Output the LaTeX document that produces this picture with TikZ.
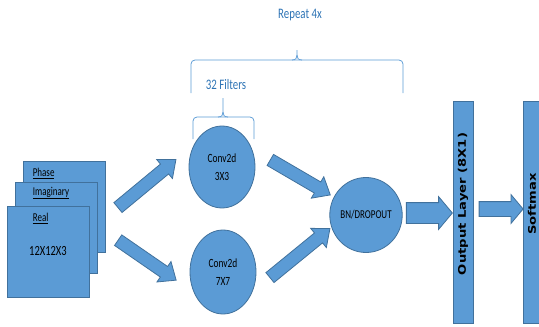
\documentclass[tikz,border=0pt]{standalone}
\usepackage{fontspec}
\setmainfont{Carlito}[FakeStretch=0.75]
\newfontfamily\layerfont{DejaVu Sans}[FakeStretch=1.25]
\usetikzlibrary{shapes.geometric,shapes.arrows,calc,positioning}
\definecolor{boxblue}{HTML}{5B9BD5}
\definecolor{edgeblue}{HTML}{41719C}
\definecolor{bracecol}{HTML}{5B9BD5}
\definecolor{notecol}{HTML}{2E74B5}

\newcommand{\blockarr}[3][]{%
  \path let \p1=($(#3)-(#2)$), \n1={veclen(\x1,\y1)} in
    (#2) -- (#3) node[midway, sloped, blockarrow, minimum height=\n1, #1] {};}

\begin{document}
\begin{tikzpicture}[x=1pt, y=-1pt]
    % Define styles
    \tikzstyle{layer} = [rectangle, draw=edgeblue, fill=boxblue, line width=0.8pt, minimum width=82pt, minimum height=91pt, inner sep=0pt]
    \tikzstyle{tag} = [anchor=west, inner sep=0pt, font=\fontsize{12}{14}\selectfont]
    \tikzstyle{op} = [ellipse, draw=edgeblue, fill=boxblue, line width=0.8pt, minimum width=66pt, inner sep=0pt, align=center, font=\fontsize{12.5}{18}\selectfont]
    \tikzstyle{bar} = [rectangle, draw=edgeblue, fill=boxblue, line width=0.8pt, minimum width=20pt, minimum height=222pt, inner sep=0pt]
    \tikzstyle{blockarrow} = [single arrow, draw=edgeblue, fill=boxblue, line width=0.8pt, inner xsep=0pt, inner ysep=6pt, minimum width=0pt, single arrow head extend=6pt, single arrow tip angle=80]
    \tikzstyle{brace} = [draw=bracecol, line width=0.75pt]
    \tikzstyle{note} = [text=notecol, font=\fontsize{14.5}{16}\selectfont]

    \useasboundingbox (0,0) rectangle (539,327);

    % Components
    \node[layer] (phase) at (64,207) {};
    \node[layer] (imag) at ([xshift=-8pt, yshift=-21pt]phase) {};
    \node[layer, font=\fontsize{14}{16}\selectfont] (real) at ([xshift=-8pt, yshift=-23.5pt]imag) {\raisebox{-6pt}{12X12X3}};
    \node[tag] (phaselbl) at ([xshift=10pt, yshift=-12pt]phase.north west) {\underline{Phase}};
    \node[tag] (imaglbl) at ([xshift=18pt, yshift=-11pt]imag.north west) {\underline{Imaginary}};
    \node[tag] (reallbl) at ([xshift=26pt, yshift=-13pt]real.north west) {\underline{Real}};

    \node[op, minimum height=82pt] (conva) at (222,167) {Conv2d\\3X3};
    \node[op, minimum height=84pt] (convb) at (223,272) {Conv2d\\7X7};
    \node[op, minimum width=67pt, minimum height=75pt, font=\fontsize{12}{14}\selectfont] (bn) at (366,215) {BN/DROPOUT};

    \node[bar] (out) at (463,212) {};
    \node[rotate=90, font=\layerfont\bfseries\fontsize{10.5}{13}\selectfont] (outlbl) at (463,204) {Output Layer (8X1)};
    \node[bar] (soft) at (533,212) {};
    \node[rotate=90, font=\layerfont\bfseries\fontsize{10.5}{13}\selectfont] (softlbl) at (532,204) {Softmax};

    \node[note] (repeat) at (300,15) {Repeat 4x};
    \node[note] (filters) at (226,85) {32 Filters};

    % Braces
    \draw[brace, rounded corners=4pt] (191,93) |- (297,60) -| (403,93);
    \draw[brace] (292,60) .. controls (296,60) and (297,58) .. (297,55) -- (297,50);
    \draw[brace] (302,60) .. controls (298,60) and (297,58) .. (297,55);
    \draw[brace, rounded corners=4pt] (193,139) |- (223,117) -| (254,139);
    \draw[brace] (218,117) .. controls (222,117) and (223,115) .. (223,112) -- (223,98);
    \draw[brace] (228,117) .. controls (224,117) and (223,115) .. (223,112);

    % Connections
    \coordinate (s1) at (115,210); \coordinate (t1) at (173,162);
    \coordinate (s2) at (115,238); \coordinate (t2) at (173,278);
    \coordinate (s3) at (267,158); \coordinate (t3) at (327,193);
    \coordinate (s4) at (267,280); \coordinate (t4) at (327,231);
    \coordinate (s5) at (402,213); \coordinate (t5) at (448,213);
    \coordinate (s6) at (476,209); \coordinate (t6) at (520,209);
    \blockarr{s1}{t1}
    \blockarr{s2}{t2}
    \blockarr{s3}{t3}
    \blockarr{s4}{t4}
    \blockarr[inner ysep=10pt, single arrow tip angle=100]{s5}{t5}
    \blockarr[inner ysep=7pt, single arrow head extend=7pt, single arrow tip angle=100]{s6}{t6}
\end{tikzpicture}
\end{document}
